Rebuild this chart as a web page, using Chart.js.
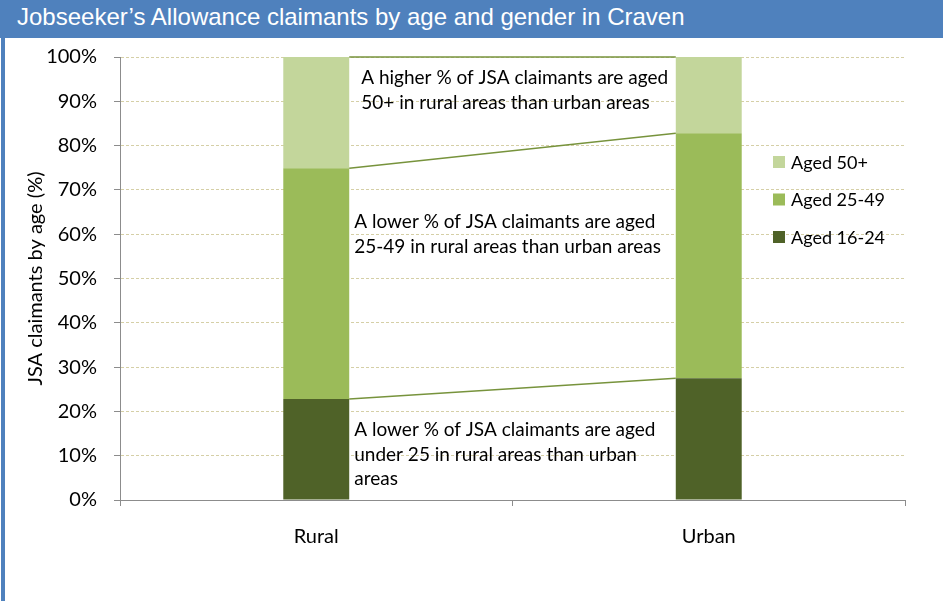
<!DOCTYPE html>
<html>
<head>
<meta charset="utf-8">
<script src="https://cdn.jsdelivr.net/npm/chart.js@4/dist/chart.umd.min.js"></script>
<style>
  html, body { margin: 0; padding: 0; background: #fff; }
  #wrap { position: relative; width: 943px; height: 601px; overflow: hidden; }
  #title {
    position: absolute; left: 0; top: 0; width: 943px; height: 38px;
    background: #4f81bd; color: #fff;
    font-family: "Liberation Sans", Arial, sans-serif;
    font-size: 24px; line-height: 33px; padding-left: 17px; box-sizing: border-box;
    white-space: nowrap;
  }
  #edge { position: absolute; left: 1px; top: 38px; width: 4px; height: 563px; background: #4f81bd; }
  #c { position: absolute; left: 0; top: 0; }
</style>
</head>
<body>
<div id="wrap">
  <canvas id="c" width="943" height="601"></canvas>
  <div id="title">Jobseeker’s Allowance claimants by age and gender in Craven</div>
  <div id="edge"></div>
</div>
<script>
const areas = ['Rural', 'Urban'];
const seriesNames = ['Aged 16-24', 'Aged 25-49', 'Aged 50+'];
const aged16to24 = [22.8, 27.5];
const aged25to49 = [52.1, 55.3];
const aged50plus = [25.1, 17.2];
const yTicks = [0, 10, 20, 30, 40, 50, 60, 70, 80, 90, 100];
const notes = [
  { at: 100, lines: ['A higher % of JSA claimants are aged', '50+ in rural areas than urban areas'] },
  { at: 67.5, lines: ['A lower % of JSA claimants are aged', '25-49 in rural areas than urban areas'] },
  { at: 20.5, lines: ['A lower % of JSA claimants are aged', 'under 25 in rural areas than urban', 'areas'] }
];

const colors = ['#4f6228', '#9bbb59', '#c3d69b'];
const lineColor = '#77933c';
const fontFam = 'Lato, "Open Sans", sans-serif';

// Excel style series lines joining the stacked bar segments
const seriesLines = {
  id: 'seriesLines',
  afterDatasetsDraw(chart) {
    const ctx = chart.ctx;
    ctx.save();
    ctx.strokeStyle = lineColor;
    ctx.lineWidth = 1.5;
    chart.data.datasets.forEach((ds, i) => {
      const meta = chart.getDatasetMeta(i);
      const a = meta.data[0], b = meta.data[1];
      ctx.beginPath();
      ctx.moveTo(a.x + a.width / 2, a.y);
      ctx.lineTo(b.x - b.width / 2, b.y);
      ctx.stroke();
    });
    ctx.restore();
  }
};

const notesAndLegend = {
  id: 'notesAndLegend',
  afterDraw(chart) {
    const ctx = chart.ctx;
    const y = chart.scales.y;
    const meta = chart.getDatasetMeta(0);
    const left = meta.data[0].x + meta.data[0].width / 2;
    ctx.save();
    ctx.fillStyle = '#000';
    ctx.font = '19px ' + fontFam;
    ctx.textBaseline = 'middle';
    notes.forEach((n, k) => {
      const x0 = left + (k === 0 ? 12 : 5);
      const y0 = y.getPixelForValue(n.at) + 21;
      n.lines.forEach((t, j) => ctx.fillText(t, x0, y0 + j * 24.5));
    });
    // legend, top series first
    ctx.font = '18px ' + fontFam;
    const lx = chart.chartArea.right - 132;
    for (let k = 0; k < seriesNames.length; k++) {
      const i = seriesNames.length - 1 - k;
      const cy = 162 + k * 37.5;
      ctx.fillStyle = colors[i];
      ctx.fillRect(lx, cy - 6, 12, 12);
      ctx.fillStyle = '#000';
      ctx.fillText(seriesNames[i], lx + 18, cy + 1);
    }
    ctx.restore();
  }
};

new Chart(document.getElementById('c'), {
  type: 'bar',
  data: {
    labels: areas,
    datasets: [
      { label: seriesNames[0], data: aged16to24, backgroundColor: colors[0] },
      { label: seriesNames[1], data: aged25to49, backgroundColor: colors[1] },
      { label: seriesNames[2], data: aged50plus, backgroundColor: colors[2] }
    ]
  },
  options: {
    responsive: false,
    animation: false,
    layout: { padding: { left: 0, top: 57, right: 38, bottom: 0 } },
    datasets: { bar: { barPercentage: 0.168, categoryPercentage: 1 } },
    plugins: { legend: { display: false }, tooltip: { enabled: false } },
    scales: {
      x: {
        stacked: true,
        afterFit: s => { s.height = 101; },
        border: { color: '#8c8c8c', width: 1 },
        grid: { drawOnChartArea: false, tickLength: 6, color: '#8c8c8c', offset: true },
        ticks: { color: '#000', padding: 19, font: { family: fontFam, size: 20 } }
      },
      y: {
        stacked: true,
        min: 0, max: 100,
        afterFit: s => { s.width = 120; },
        afterBuildTicks: s => { s.ticks = yTicks.map(v => ({ value: v })); },
        border: { color: '#8c8c8c', width: 1, dash: [3, 2] },
        grid: { color: '#d5cfa6', lineWidth: 1, tickLength: 6, tickColor: '#8c8c8c', tickBorderDash: [] },
        ticks: { color: '#000', padding: 17, font: { family: fontFam, size: 20 }, callback: v => v + '%' },
        title: {
          display: true, text: 'JSA claimants by age (%)', color: '#000',
          font: { family: fontFam, size: 20 }, padding: { top: 24, bottom: 0 }
        }
      }
    }
  },
  plugins: [seriesLines, notesAndLegend]
});
</script>
</body>
</html>
